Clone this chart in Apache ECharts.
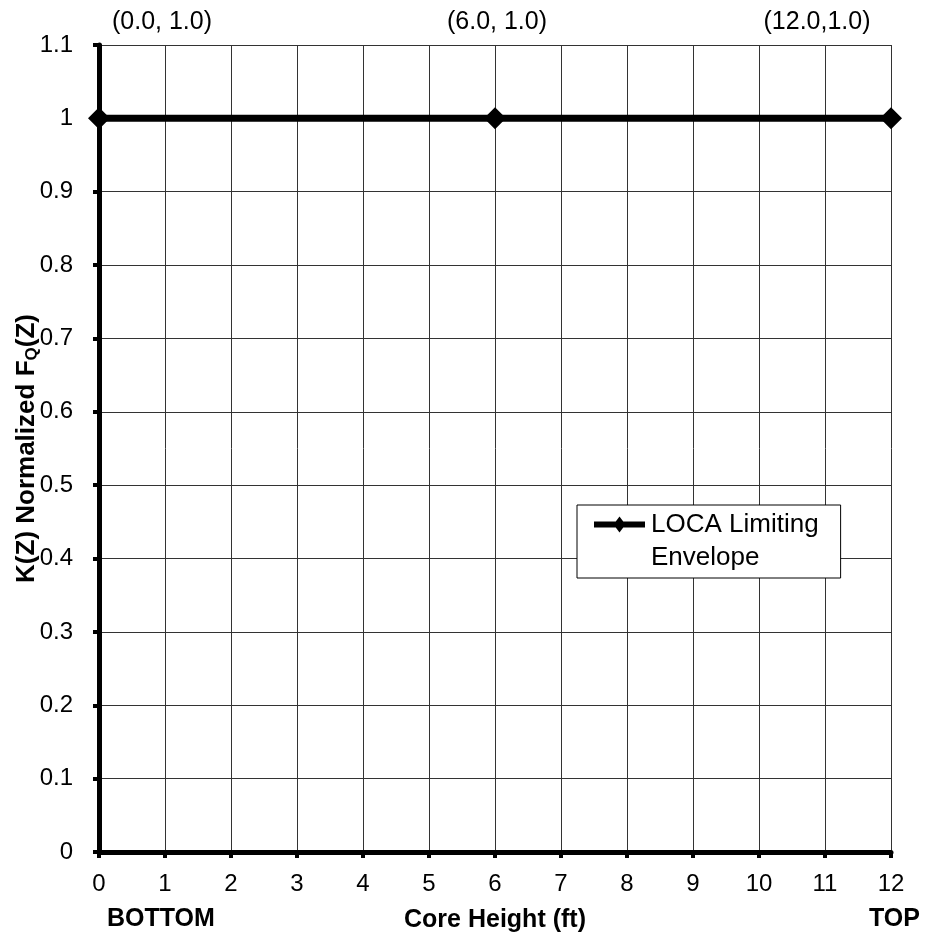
<!DOCTYPE html>
<html>
<head>
<meta charset="utf-8">
<script src="https://cdn.jsdelivr.net/npm/echarts@6/dist/echarts.min.js"></script>
<style>
html,body{margin:0;padding:0;background:#fff;}
#chart{width:925px;height:936px;}
</style>
</head>
<body>
<div id="chart"></div>
<script>
const coreHeight = [0, 6, 12];
const kValues = [1.0, 1.0, 1.0];
const pointLabels = ['(0.0, 1.0)', '(6.0, 1.0)', '(12.0,1.0)'];
const labelOffsets = [[63, -96], [2, -96], [-74, -96]];
const seriesName = 'LOCA Limiting Envelope';
const xTickLabels = ['0','1','2','3','4','5','6','7','8','9','10','11','12'];
const yTickLabels = ['0','0.1','0.2','0.3','0.4','0.5','0.6','0.7','0.8','0.9','1','1.1'];

const FONT = '"Liberation Sans", Arial, sans-serif';
const chart = echarts.init(document.getElementById('chart'));

const data = coreHeight.map((x, i) => ({
  value: [x, kValues[i]],
  label: { show: true, formatter: pointLabels[i], position: 'inside', offset: labelOffsets[i] }
}));

// legend icon: thick line with small diamond in the upper part of a 55x66 box
const legendIconPath = 'path://M0,0Z M0,66Z M2,13.5L53,13.5L53,19.5L2,19.5Z M21.5,16.5L27.5,8.5L33.5,16.5L27.5,24.5Z';

chart.setOption({
  animation: false,
  backgroundColor: '#fff',
  grid: { left: 99, right: 34, top: 45, bottom: 84, containLabel: false, outerBoundsMode: 'none' },
  xAxis: {
    type: 'value', min: 0, max: 12, interval: 1,
    name: 'Core Height (ft)', nameLocation: 'middle', nameGap: 56, nameMoveOverlap: false,
    nameTextStyle: { fontFamily: FONT, fontSize: 25, fontWeight: 'bold', color: '#000' },
    axisLine: { show: true, onZero: false, lineStyle: { color: '#000', width: 5 } },
    axisTick: { show: true, length: 6, lineStyle: { color: '#000', width: 4 } },
    axisLabel: { margin: 20, fontFamily: FONT, fontSize: 24, color: '#000',
      formatter: v => xTickLabels[Math.round(v)] },
    splitLine: { show: true, lineStyle: { color: '#333', width: 1 } }
  },
  yAxis: {
    type: 'value', min: 0, max: 1.1, interval: 0.1,
    name: 'K(Z) Normalized F{sub|Q}(Z)', nameLocation: 'middle', nameGap: 58, nameRotate: 90,
    nameMoveOverlap: false,
    nameTextStyle: { fontFamily: FONT, fontSize: 26, fontWeight: 'bold', color: '#000',
      rich: { sub: { fontFamily: FONT, fontSize: 17, fontWeight: 'bold', color: '#000', padding: [11, 0, 0, 0] } } },
    axisLine: { show: true, onZero: false, lineStyle: { color: '#000', width: 5 } },
    axisTick: { show: true, length: 6, lineStyle: { color: '#000', width: 4 } },
    axisLabel: { margin: 26, fontFamily: FONT, fontSize: 24, color: '#000',
      formatter: v => yTickLabels[Math.round(v * 10)] },
    splitLine: { show: true, lineStyle: { color: '#333', width: 1 } }
  },
  legend: {
    left: 577, top: 505,
    orient: 'vertical',
    padding: [3, 22, 4, 15],
    backgroundColor: '#fff', borderColor: '#000', borderWidth: 1,
    icon: legendIconPath,
    itemStyle: { color: '#000' },
    itemWidth: 55, itemHeight: 66, itemGap: 0,
    textStyle: { fontFamily: FONT, fontSize: 26, color: '#000', lineHeight: 33 },
    formatter: () => 'LOCA Limiting\nEnvelope',
    data: [seriesName]
  },
  series: [{
    name: seriesName,
    type: 'line',
    data: data,
    clip: false,
    symbol: 'diamond', symbolSize: 22,
    lineStyle: { color: '#000', width: 7 },
    itemStyle: { color: '#000' },
    label: { fontFamily: FONT, fontSize: 25, color: '#000' },
    z: 5
  }],
  graphic: [
    { type: 'text', left: 107, top: 907, style: { text: 'BOTTOM', font: 'bold 25px ' + FONT, fill: '#000' } },
    { type: 'text', left: 869, top: 907, style: { text: 'TOP', font: 'bold 25px ' + FONT, fill: '#000' } }
  ]
});
</script>
</body>
</html>
